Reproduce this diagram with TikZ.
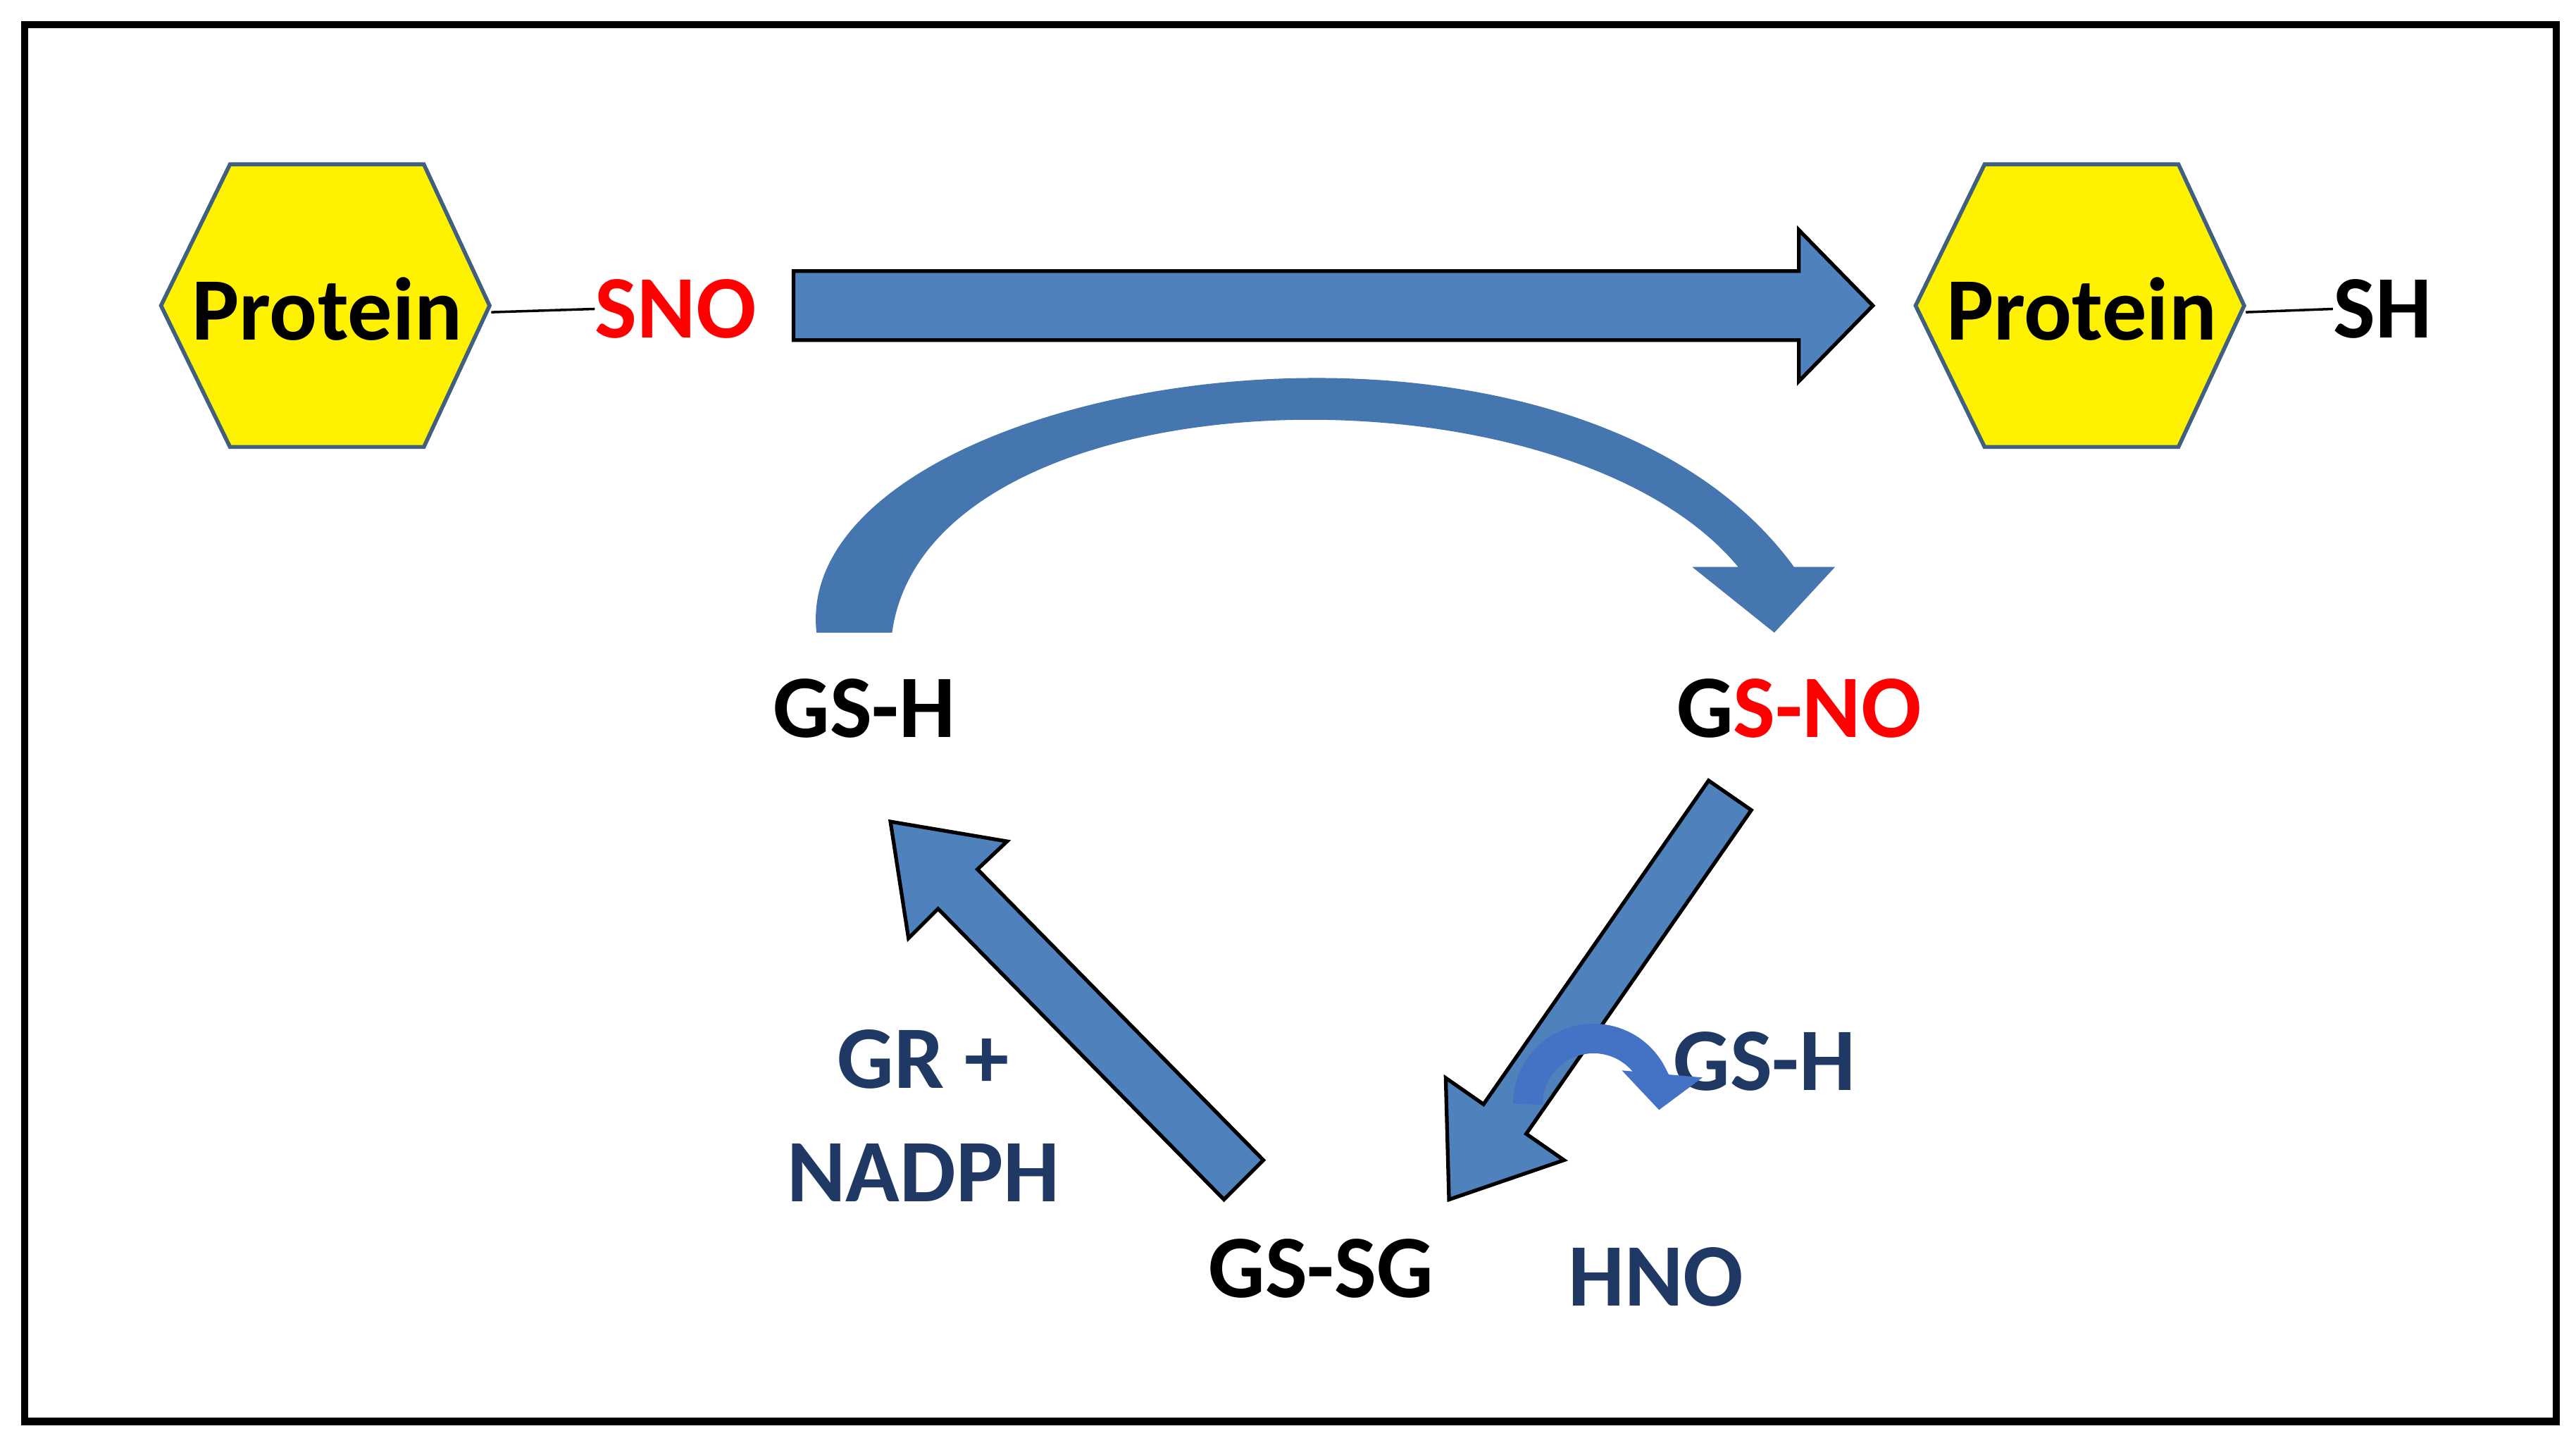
\documentclass[tikz,border=0pt]{standalone}
\usepackage{fontspec}
\setmainfont{Carlito}
\usetikzlibrary{arrows.meta}
\definecolor{arr}{HTML}{4F81BD}
\definecolor{carr}{HTML}{4676B0}
\definecolor{hexb}{HTML}{41607F}
\definecolor{navy}{HTML}{1F3864}
\definecolor{rarr}{HTML}{4472C4}
\begin{document}
\begin{tikzpicture}[x=0.023323cm,y=-0.023323cm,
  lbl/.style={font=\fontsize{36}{40}\selectfont\bfseries, inner sep=0pt},
  hex/.style={fill=yellow, draw=hexb, line width=1.6pt},
  bigarr/.style={fill=arr, draw=black, line width=1.5pt, line join=miter}]
\useasboundingbox (0,0) rectangle (1568,882);
\node (frame) [draw=black, line width=3pt, minimum width=1541*0.023323cm, minimum height=850*0.023323cm, inner sep=0pt] at (785.5,440) {};
% left protein
\draw[hex] (98,186)--(140,100)--(258,100)--(298,186)--(258,272)--(140,272)--cycle;
\node[lbl] (p1) at (199,188) {Protein};
\node[lbl, text=red, anchor=west] (sno) at (362,188) {SNO};
\coordinate (h1) at (299,190);
\draw[line width=1pt] (h1) -- (sno.west);
% right protein
\draw[hex] (1166,186)--(1208,100)--(1326,100)--(1366,186)--(1326,272)--(1208,272)--cycle;
\node[lbl] (p2) at (1267,188) {Protein};
\node[lbl, anchor=west] (sh) at (1420,188) {SH};
\coordinate (h2) at (1367,190);
\draw[line width=1pt] (h2) -- (sh.west);
% big straight arrow
\draw[bigarr] (483,165)--(1095,165)--(1095,140)--(1140,186)--(1095,232)--(1095,207)--(483,207)--cycle;
% curved arrow
\fill[carr] (497,385) .. controls (480,230) and (950,150) .. (1092,345) -- (1117,345) -- (1080,385) -- (1030,345) -- (1058,345) .. controls (950,215) and (565,225) .. (543,385) -- cycle;
% labels
\node[lbl] (gsh) at (526,431) {GS-H};
\node[lbl] (gsno) at (1095,431) {G\textcolor{red}{S-NO}};
\node[lbl] (gssg) at (804,772) {GS-SG};
\node[lbl, text=navy] (gsh2) at (1074,646) {GS-H};
\node[lbl, text=navy] (hno) at (1008,777) {HNO};
\node[lbl, text=navy, align=center] (gr) at (562,679) {GR +\\[6pt]NADPH};
% diagonal arrows
\draw[bigarr] (1066,493)--(929,690)--(952,706)--(882,730)--(880,656)--(903,672)--(1040,475)--cycle;
\draw[bigarr] (769,706)--(595,529)--(613,512)--(542,500)--(553,571)--(571,553)--(745,730)--cycle;
% small circular arrow
\draw[rarr, line width=18*0.023323cm, -{Triangle[width=48*0.023323cm, length=22*0.023323cm]}] (930,672) arc[start angle=180, end angle=365, radius=40];
\end{tikzpicture}
\end{document}
